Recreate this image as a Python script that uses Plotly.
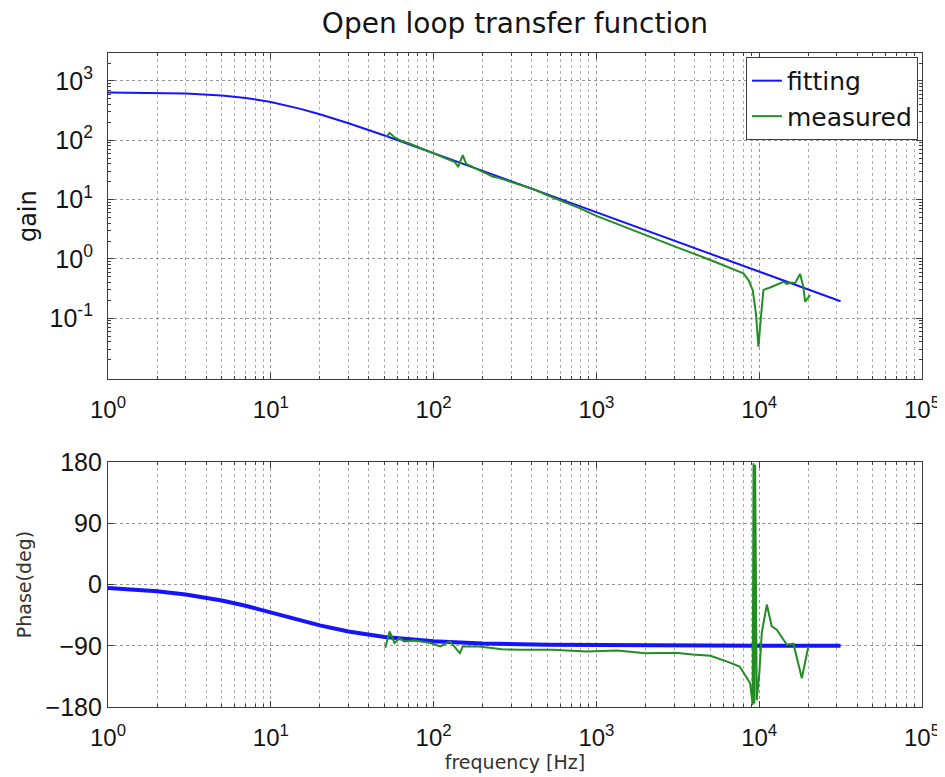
import plotly.graph_objects as go
from plotly.subplots import make_subplots

# ---------------- data ----------------
fit_freq = [1, 2, 3, 5, 7, 10, 15, 20, 30, 50, 100, 200, 500, 1000, 2000, 5000, 10000, 20000, 31600]
fit_gain = [640, 627, 612, 568, 516, 442, 341, 274, 193, 120, 61, 30.5, 12.2, 6.1, 3.05, 1.22, 0.61, 0.305, 0.193]
fit_phase = [-5, -9.9, -14.6, -23.5, -31.3, -41, -52.5, -60, -69, -77, -83.4, -86.7, -88.7, -89.3, -89.7, -89.9, -90, -90, -90]

meas_freq_gain = [51.5, 53.7, 57.5, 63, 71, 79, 100, 112, 126, 135, 141.6, 151, 158.5, 178, 202, 232, 251,
                  316, 410, 500, 631, 794, 1000, 1393, 2000, 3162, 5012, 7080, 8000, 8590, 9120, 9550,
                  9890, 10230, 10620, 11670, 12590, 14090, 14790, 15850, 16600, 17820, 18620, 19140,
                  19950, 20560]
meas_gain = [115, 133, 112, 98, 88, 78, 61, 54, 47, 43, 35.6, 56, 40, 34, 29.4, 24.2, 23.2,
             18.8, 15.0, 11.8, 9.2, 7.1, 5.3, 3.7, 2.55, 1.55, 0.96, 0.66, 0.57, 0.44, 0.3, 0.12,
             0.033, 0.1, 0.3, 0.33, 0.36, 0.41, 0.38, 0.4, 0.39, 0.557, 0.35, 0.19,
             0.22, 0.245]

meas_freq_phase = [50.5, 53.7, 57.5, 61.7, 66, 76, 95.5, 110, 126, 145, 151, 190, 263, 339, 537, 871,
                   1349, 2000, 2455, 3162, 3890, 5012, 6310, 7590, 8790, 9120, 9226, 9333, 9440,
                   9660, 10020, 10370, 11140, 11940, 12820, 14790, 16220, 18280, 20040]
meas_phase = [-93, -69, -86, -78.6, -83.6, -82, -86, -91, -83.6, -100.8, -91, -91, -95, -96, -96, -98.4,
              -97, -101, -100.8, -100.8, -103, -104.7, -113, -120.5, -145, -177, 178, -175, 176,
              -170, -130, -71, -29.5, -61.5, -66.4, -88.5, -87, -137.6, -91]

x_tickvals = [1, 10, 100, 1000, 10000, 100000]
x_ticktext = ["10<sup>0</sup>", "10<sup>1</sup>", "10<sup>2</sup>", "10<sup>3</sup>",
              "10<sup>4</sup>", "10<sup>5</sup>"]
gain_tickvals = [0.1, 1, 10, 100, 1000]
gain_ticktext = ["10<sup>-1</sup>", "10<sup>0</sup>", "10<sup>1</sup>", "10<sup>2</sup>", "10<sup>3</sup>"]
phase_tickvals = [-180, -90, 0, 90, 180]
phase_ticktext = ["\u2212180", "\u221290", "0", "90", "180"]

x_minor = [m * 10 ** e for e in range(0, 5) for m in range(2, 10)]
gain_minor = [m * 10 ** e for e in range(-2, 4) for m in range(2, 10)]

BLUE = "rgb(20,20,255)"
GREEN = "rgb(35,140,35)"
NUMFONT = "Liberation Sans"
TXTFONT = "DejaVu Sans"

# the page body adds an 8 px margin, so the figure is 8 px smaller than the window
W, H = 937, 769

fig = make_subplots(rows=2, cols=1, vertical_spacing=0.1)

fig.add_trace(go.Scatter(x=fit_freq, y=fit_gain, mode="lines", name="fitting",
                         line=dict(color=BLUE, width=2)), row=1, col=1)
fig.add_trace(go.Scatter(x=meas_freq_gain, y=meas_gain, mode="lines", name="measured",
                         line=dict(color=GREEN, width=2)), row=1, col=1)
fig.add_trace(go.Scatter(x=fit_freq, y=fit_phase, mode="lines", name="fitting",
                         showlegend=False, line=dict(color=BLUE, width=4)), row=2, col=1)
fig.add_trace(go.Scatter(x=meas_freq_phase, y=meas_phase, mode="lines", name="measured",
                         showlegend=False, line=dict(color=GREEN, width=2)), row=2, col=1)

axis_common = dict(
    showline=True, linecolor="rgb(60,60,60)", linewidth=1.2, mirror="ticks",
    ticks="inside", ticklen=6, tickcolor="rgb(60,60,60)",
    showgrid=True, gridcolor="rgb(150,150,150)", griddash="dot", gridwidth=1,
    zeroline=False, automargin=False,
    tickfont=dict(family=NUMFONT, size=25, color="rgb(20,20,20)"),
)

xaxis_cfg = dict(axis_common, type="log", range=[0, 5], tickmode="array",
                 tickvals=x_tickvals, ticktext=x_ticktext, ticklabelstandoff=9,
                 minor=dict(tickmode="array", tickvals=x_minor, ticks="inside", ticklen=3,
                            tickcolor="rgb(60,60,60)", showgrid=True,
                            gridcolor="rgb(175,175,175)", griddash="dot", gridwidth=1))

fig.update_xaxes(**xaxis_cfg, row=1, col=1)
fig.update_xaxes(**xaxis_cfg, row=2, col=1)
fig.update_xaxes(tickfont=dict(size=24), row=1, col=1)
fig.update_xaxes(tickfont=dict(size=24), row=2, col=1)
fig.update_xaxes(title=dict(text="frequency [Hz]", font=dict(family=TXTFONT, size=19, color="rgb(50,50,50)"),
                            standoff=0), row=2, col=1)

fig.update_yaxes(**axis_common, type="log", range=[-2.03, 3.47], tickmode="array",
                 tickvals=gain_tickvals, ticktext=gain_ticktext, ticklabelstandoff=9,
                 minor=dict(tickmode="array", tickvals=gain_minor, ticks="inside", ticklen=3,
                            tickcolor="rgb(60,60,60)", showgrid=False),
                 title=dict(text="gain", font=dict(family=TXTFONT, size=24, color="rgb(20,20,20)"), standoff=6),
                 row=1, col=1)
fig.update_yaxes(**axis_common, range=[-180, 180], tickmode="array",
                 tickvals=phase_tickvals, ticktext=phase_ticktext, ticklabelstandoff=0,
                 title=dict(text="Phase(deg)", font=dict(family=TXTFONT, size=19, color="rgb(50,50,50)"),
                            standoff=8),
                 row=2, col=1)
fig.update_yaxes(tickfont=dict(size=25), row=2, col=1)

fig.update_layout(
    width=W, height=H,
    margin=dict(l=100, r=23, t=45, b=70),
    paper_bgcolor="white", plot_bgcolor="white",
    font=dict(family=TXTFONT, color="black"),
    title=dict(text="Open loop transfer function", x=0.5, xref="paper", xanchor="center",
               y=1 - 15 / H, yref="container", yanchor="middle",
               font=dict(family=TXTFONT, size=28, color="rgb(20,20,20)")),
    legend=dict(x=0.995, y=0.994, xanchor="right", yanchor="top",
                bordercolor="rgb(60,60,60)", borderwidth=1, bgcolor="white",
                font=dict(family=TXTFONT, size=25, color="rgb(20,20,20)"),
                tracegroupgap=0, itemwidth=30),
    showlegend=True,
)
fig.update_layout(yaxis=dict(domain=[0.501, 1.0]), yaxis2=dict(domain=[0.0, 0.3746]))

fig.write_html("out.html")
